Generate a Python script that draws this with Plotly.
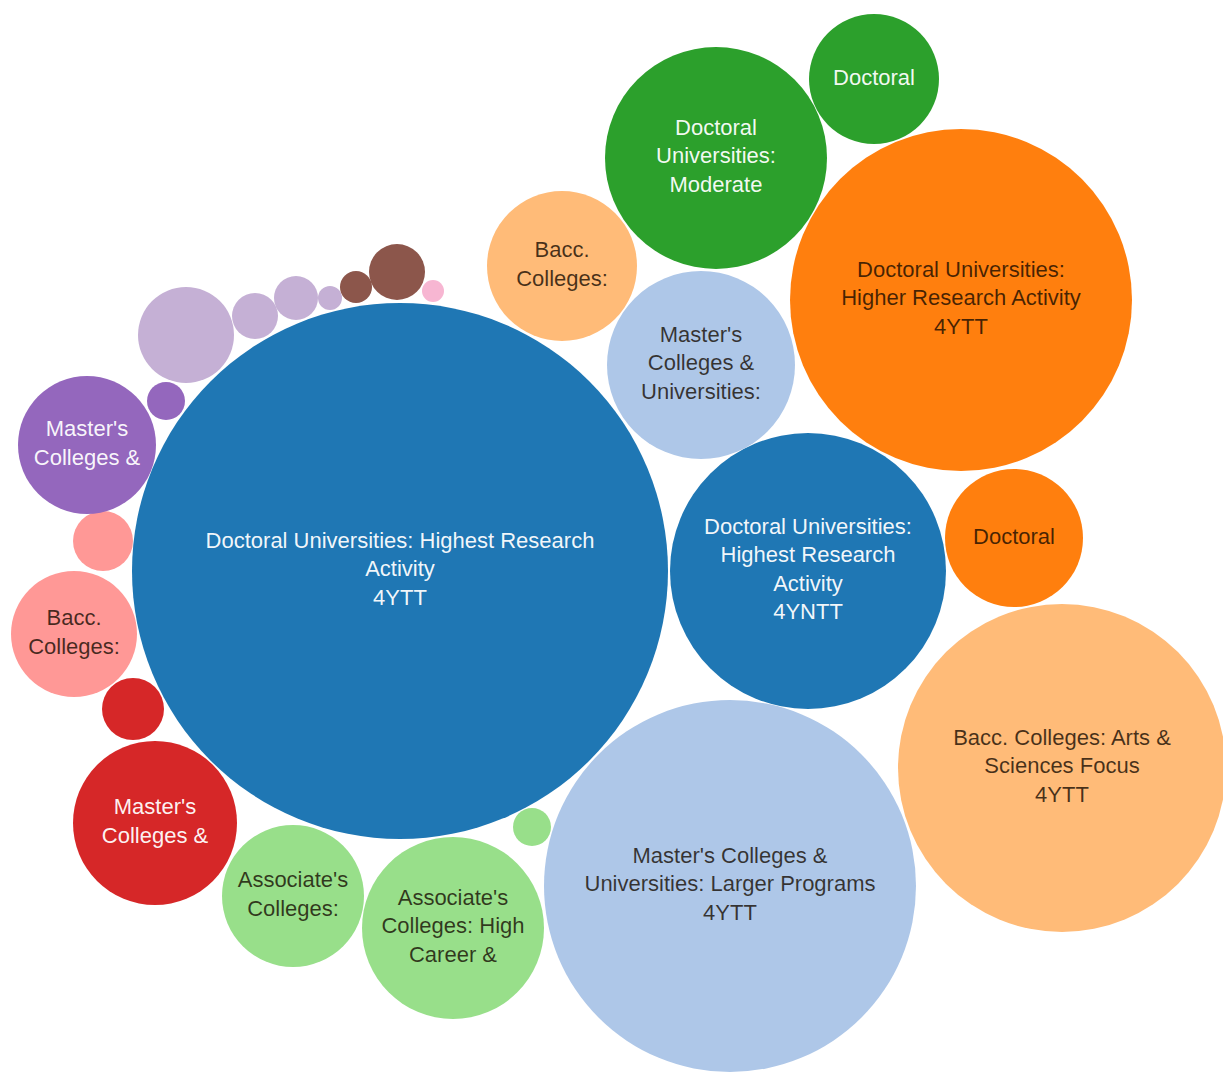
import plotly.graph_objects as go

# ---- data -------------------------------------------------------------
labels = [
    "Doctoral Universities: Highest Research<br>Activity<br>4YTT",
    "Doctoral Universities:<br>Highest Research<br>Activity<br>4YNTT",
    "Doctoral Universities:<br>Higher Research Activity<br>4YTT",
    "Doctoral",
    "Bacc. Colleges: Arts &<br>Sciences Focus<br>4YTT",
    "Bacc.<br>Colleges:",
    "Master's Colleges &<br>Universities: Larger Programs<br>4YTT",
    "Master's<br>Colleges &<br>Universities:",
    "Doctoral<br>Universities:<br>Moderate",
    "Doctoral",
    "Associate's<br>Colleges: High<br>Career &",
    "Associate's<br>Colleges:",
    "",
    "Master's<br>Colleges &",
    "",
    "Bacc.<br>Colleges:",
    "",
    "Master's<br>Colleges &",
    "",
    "", "", "", "",
    "", "",
    "",
]
groups = [
    "blue", "blue", "orange", "orange", "lightorange", "lightorange",
    "lightblue", "lightblue", "green", "green", "lightgreen", "lightgreen",
    "lightgreen", "red", "red", "pink", "pink", "purple", "purple",
    "lightpurple", "lightpurple", "lightpurple", "lightpurple",
    "brown", "brown", "lightpink",
]
# packed-bubble layout positions (chart units) and bubble radii
pos_x = [400, 808, 961, 1014, 1062, 562, 730, 701, 716, 874, 453, 293, 532,
         155, 133, 74, 103, 87, 166, 186, 255, 296, 330, 356, 397, 433]
pos_y = [571, 571, 300, 538, 768, 266, 886, 365, 158, 79, 928, 896, 827,
         823, 709, 634, 541, 445, 401, 335, 316, 298, 298, 287, 272, 291]
radius = [268, 138, 171, 69, 164, 75, 186, 94, 111, 65, 91, 71, 19,
          82, 31, 63, 30, 69, 19, 48, 23, 22, 12, 16, 28, 11]

# ---- style ------------------------------------------------------------
palette = {
    "blue": "#1f77b4", "lightblue": "#aec7e8",
    "orange": "#ff7f0e", "lightorange": "#ffbb78",
    "green": "#2ca02c", "lightgreen": "#98df8a",
    "red": "#d62728", "pink": "#ff9896",
    "purple": "#9467bd", "lightpurple": "#c5b0d5",
    "brown": "#8c564b", "lightpink": "#f7b6d2",
}
light_text_groups = {"blue", "green", "red", "purple", "brown"}
text_colors = ["rgba(255,255,255,0.95)" if g in light_text_groups else "rgba(20,10,0,0.78)"
               for g in groups]

fig = go.Figure(
    go.Scatter(
        x=pos_x,
        y=pos_y,
        mode="markers+text",
        text=labels,
        textposition="middle center",
        textfont=dict(family="Liberation Sans, Arial, sans-serif", size=22, color=text_colors),
        marker=dict(
            size=radius,
            sizemode="diameter",
            sizeref=0.5,
            color=[palette[g] for g in groups],
            opacity=1,
            line=dict(width=0),
        ),
        hoverinfo="text",
        cliponaxis=False,
    )
)

fig.update_layout(
    width=1223,
    height=1072,
    margin=dict(l=0, r=0, t=0, b=0),
    paper_bgcolor="white",
    plot_bgcolor="white",
    showlegend=False,
    xaxis=dict(range=[0, 1223], visible=False, fixedrange=True),
    yaxis=dict(range=[1072, 0], visible=False, fixedrange=True),
)

fig.write_html(
    "out.html",
    config={"displayModeBar": False},
    post_script="document.body.style.margin='0';document.body.style.overflow='hidden';",
)
